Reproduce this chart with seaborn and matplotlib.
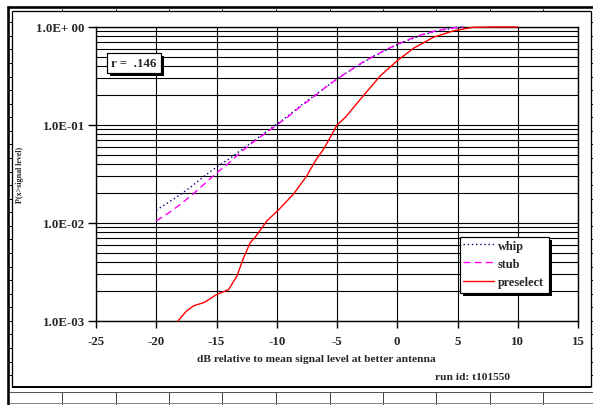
import numpy as np
import pandas as pd
import matplotlib
matplotlib.use("Agg")
import matplotlib.pyplot as plt
import seaborn as sns
from matplotlib.lines import Line2D
from matplotlib.patches import Rectangle
from matplotlib.ticker import FixedLocator, FixedFormatter, NullFormatter, LogLocator

# ---------------- data ----------------
whip_db = [-20, -19, -18, -17, -16, -15, -14, -13, -12, -11, -10, -9, -8, -7, -6,
           -5, -4, -3, -2, -1, 0, 1, 2, 3, 4, 5, 5.5]
whip_p = [0.0135, 0.0162, 0.0195, 0.0240, 0.0302, 0.0372, 0.0447, 0.0550, 0.0676,
          0.0832, 0.102, 0.126, 0.158, 0.195, 0.240, 0.295, 0.355, 0.422, 0.501,
          0.575, 0.661, 0.741, 0.822, 0.891, 0.944, 0.989, 1.0]

stub_db = [-20, -19, -18, -17, -16, -15, -14, -13, -12, -11, -10, -9, -8, -7, -6,
           -5, -4, -3, -2, -1, 0, 1, 2, 3, 4, 5, 5.5]
stub_p = [0.0105, 0.0126, 0.0155, 0.0195, 0.0251, 0.0324, 0.0407, 0.0525, 0.0661,
          0.0813, 0.100, 0.123, 0.155, 0.191, 0.240, 0.295, 0.355, 0.427, 0.501,
          0.582, 0.668, 0.750, 0.832, 0.902, 0.955, 0.991, 1.0]

pre_db = [-18.2, -17.5, -16.9, -16.0, -15.0, -14.0, -13.3, -12.8, -12.2, -11.8,
          -10.8, -9.9, -8.6, -7.5, -6.7, -6.1, -5.0, -4.3, -2.8, -1.4, 0.0, 1.35,
          3.0, 4.7, 6.3, 8.0, 10.0]
pre_p = [0.00100, 0.00126, 0.00143, 0.00155, 0.00186, 0.00209, 0.00288, 0.00427,
         0.00631, 0.00714, 0.0106, 0.0134, 0.0198, 0.0304, 0.0450, 0.0569, 0.100,
         0.120, 0.200, 0.318, 0.453, 0.607, 0.785, 0.916, 0.993, 1.0, 1.0]

series_names = ["whip", "stub", "preselect"]
x_ticks = [-25, -20, -15, -10, -5, 0, 5, 10, 15]
y_ticks = [1e-3, 1e-2, 1e-1, 1.0]
y_tick_labels = ["1.0E-03", "1.0E-02", "1.0E-01", "1.0E+ 00"]
r_text = "r =  .146"

df = pd.concat([
    pd.DataFrame({"dB": whip_db, "P": whip_p, "series": "whip"}),
    pd.DataFrame({"dB": stub_db, "P": stub_p, "series": "stub"}),
    pd.DataFrame({"dB": pre_db, "P": pre_p, "series": "preselect"}),
], ignore_index=True)

# ---------------- style ----------------
sns.set_style("white")
plt.rcParams["font.family"] = ["Liberation Serif", "DejaVu Serif"]
plt.rcParams["font.weight"] = "bold"

W, H = 593, 406
fig = plt.figure(figsize=(W / 100, H / 100), dpi=100)
fig.patch.set_facecolor("white")


def fx(x):
    return x / W


def fy(y):
    return 1 - y / H


PX = 0.72  # points per pixel

ax = fig.add_axes([fx(96), fy(322), fx(578) - fx(96), fy(28) - fy(322)])

colors = {"whip": "#000080", "stub": "#FF00FF", "preselect": "#FF0000"}
dashes = {"whip": (1, 2), "stub": (5, 3), "preselect": ""}

sns.lineplot(data=df, x="dB", y="P", hue="series", style="series",
             hue_order=series_names, style_order=series_names,
             palette=colors, dashes=dashes, estimator=None, sort=False,
             linewidth=1.0, legend=False, ax=ax, zorder=5)
for ln in ax.get_lines():
    ln.set_clip_on(False)

ax.set_yscale("log")
ax.set_xlim(-25, 15)
ax.set_ylim(1e-3, 1.0)

ax.xaxis.set_major_locator(FixedLocator(x_ticks))
ax.set_xticklabels([str(t) for t in x_ticks])
ax.yaxis.set_major_locator(FixedLocator(y_ticks))
ax.yaxis.set_major_formatter(FixedFormatter(y_tick_labels))
ax.yaxis.set_minor_locator(LogLocator(base=10, subs=np.arange(2, 10)))
ax.yaxis.set_minor_formatter(NullFormatter())

ax.grid(True, which="major", axis="both", color="black", linewidth=0.8)
ax.grid(True, which="minor", axis="y", color="black", linewidth=0.8)
ax.set_axisbelow(True)

ax.tick_params(axis="x", which="major", direction="out", length=5, width=1,
               color="black", labelsize=9.3, pad=5, bottom=True)
ax.tick_params(axis="y", which="major", direction="out", length=6, width=1,
               color="black", labelsize=9.3, pad=2, left=True)
ax.tick_params(axis="y", which="minor", length=0)
for lab in ax.get_xticklabels() + ax.get_yticklabels():
    lab.set_fontweight("bold")

for sp in ax.spines.values():
    sp.set_visible(True)
    sp.set_color("black")
    sp.set_linewidth(1.0)

ax.set_xlabel("")
ax.set_ylabel("")

# axis titles
fig.text(fx(316), fy(360), "dB relative to mean signal level at better antenna",
         ha="center", va="center", fontsize=8.2, fontweight="bold")
fig.text(fx(510), fy(378), "run id: t101550", ha="right", va="center",
         fontsize=8.2, fontweight="bold")
fig.text(fx(20), fy(175), "P(x>signal level)", ha="center", va="center",
         rotation=90, fontsize=5.8, fontweight="bold")

# r box with shadow
rx0, ry0, rx1, ry1 = 106.5, 53.5, 160.5, 74
fig.add_artist(Rectangle((fx(rx0 + 3), fy(ry1 + 3)), fx(rx1 - rx0), fy(ry0) - fy(ry1),
                         transform=fig.transFigure, facecolor="black",
                         edgecolor="none", zorder=10))
fig.add_artist(Rectangle((fx(rx0), fy(ry1)), fx(rx1 - rx0), fy(ry0) - fy(ry1),
                         transform=fig.transFigure, facecolor="white",
                         edgecolor="black", linewidth=1.2 * PX, zorder=11))
fig.text(fx((rx0 + rx1) / 2), fy((ry0 + ry1) / 2 + 0.5), r_text, ha="center",
         va="center", fontsize=9.3, fontweight="bold", zorder=12)

# legend box with shadow
lx0, ly0, lx1, ly1 = 459.5, 237.5, 549, 294
fig.add_artist(Rectangle((fx(lx0 + 3), fy(ly1 + 3)), fx(lx1 - lx0), fy(ly0) - fy(ly1),
                         transform=fig.transFigure, facecolor="black",
                         edgecolor="none", zorder=10))
fig.add_artist(Rectangle((fx(lx0), fy(ly1)), fx(lx1 - lx0), fy(ly0) - fy(ly1),
                         transform=fig.transFigure, facecolor="white",
                         edgecolor="black", linewidth=1.2 * PX, zorder=11))
handles = [Line2D([], [], color=colors[s], linewidth=1.0,
                  dashes=(1, 2) if s == "whip" else ((5, 3) if s == "stub" else (None, None)),
                  linestyle="-" if s == "preselect" else "--")
           for s in series_names]
leg = fig.legend(handles, series_names, loc="upper left",
                 bbox_to_anchor=(fx(lx0), fy(ly0)), bbox_transform=fig.transFigure,
                 frameon=False, fontsize=8.8, handlelength=2.6, handletextpad=0.3,
                 labelspacing=0.5, borderpad=0.25, borderaxespad=0)
leg.set_zorder(12)
for t in leg.get_texts():
    t.set_fontweight("bold")

# ---------------- spreadsheet decoration ----------------
def hline(y, x0, x1, lw_px, color="black", z=20):
    fig.add_artist(Line2D([fx(x0), fx(x1)], [fy(y), fy(y)], transform=fig.transFigure,
                          color=color, linewidth=lw_px * PX, zorder=z,
                          solid_capstyle="butt"))


def vline(x, y0, y1, lw_px, color="black", z=20):
    fig.add_artist(Line2D([fx(x), fx(x)], [fy(y0), fy(y1)], transform=fig.transFigure,
                          color=color, linewidth=lw_px * PX, zorder=z,
                          solid_capstyle="butt"))


# thick top and left rules
hline(8.3, 6.5, 593, 2.6)
vline(8.0, 7.0, 406, 2.6)

# inner frame
hline(12.3, 12.0, 591, 1.3)
vline(12.3, 12.0, 388, 1.3)
vline(590.5, 12.0, 388, 1.3)
hline(387.5, 12.0, 591, 2.0)

# column markers
cols = [62, 116, 169, 222, 276, 330, 383, 436, 490, 543]
for c in cols:
    vline(c, 9.5, 12.3, 1.0)
    vline(c, 392.5, 406, 1.0, color="#444444")

# row markers
for k in range(27):
    yy = 23.3 + 13.57 * k
    if yy < 387:
        hline(yy, 9.2, 12.3, 1.0)
        hline(yy, 590.5, 593, 1.0)

# bottom cell rules
hline(392.5, 9.2, 593, 1.0, color="#555555")
hline(404.3, 9.2, 593, 1.0, color="#888888")

fig.savefig("out.png", dpi=100, facecolor="white")
